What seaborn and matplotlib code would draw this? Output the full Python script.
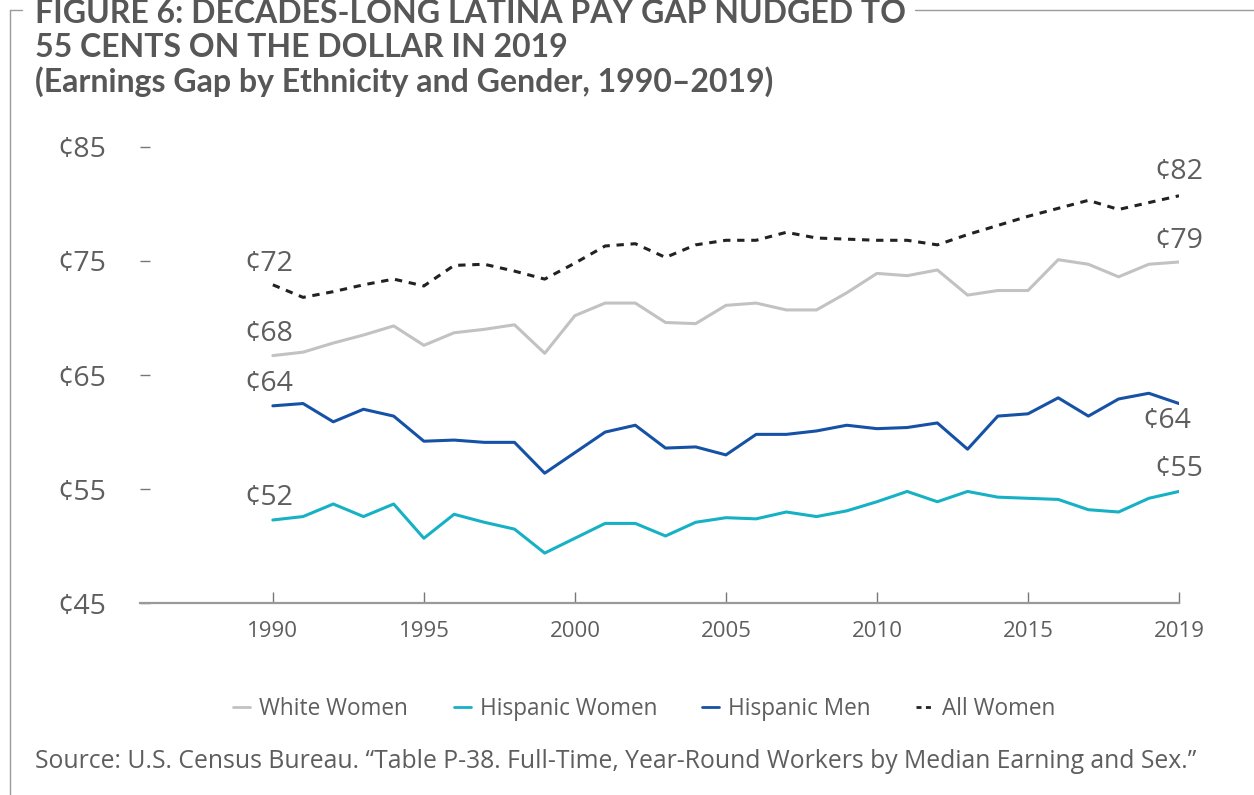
import numpy as np
import pandas as pd
import matplotlib
matplotlib.use("Agg")
import matplotlib.pyplot as plt
from matplotlib.lines import Line2D
import seaborn as sns

# observation index (31 census rows, 1990-2019)
obs = list(range(31))
tick_pos = [0, 5, 10, 15, 20, 25, 30]
tick_labels = ["1990", "1995", "2000", "2005", "2010", "2015", "2019"]

white_women = [66.7, 67.0, 67.8, 68.5, 69.3, 67.6, 68.7, 69.0, 69.4, 66.9,
               70.2, 71.3, 71.3, 69.6, 69.5, 71.1, 71.3, 70.7, 70.7, 72.2,
               73.9, 73.7, 74.2, 72.0, 72.4, 72.4, 75.1, 74.7, 73.6, 74.7, 74.9]
hispanic_women = [52.3, 52.6, 53.7, 52.6, 53.7, 50.7, 52.8, 52.1, 51.5, 49.4,
                  50.7, 52.0, 52.0, 50.9, 52.1, 52.5, 52.4, 53.0, 52.6, 53.1,
                  53.9, 54.8, 53.9, 54.8, 54.3, 54.2, 54.1, 53.2, 53.0, 54.2, 54.8]
hispanic_men = [62.3, 62.5, 60.9, 62.0, 61.4, 59.2, 59.3, 59.1, 59.1, 56.4,
                58.2, 60.0, 60.6, 58.6, 58.7, 58.0, 59.8, 59.8, 60.1, 60.6,
                60.3, 60.4, 60.8, 58.5, 61.4, 61.6, 63.0, 61.4, 62.9, 63.4, 62.5]
all_women = [72.9, 71.8, 72.3, 72.9, 73.4, 72.8, 74.6, 74.7, 74.1, 73.4,
             74.8, 76.3, 76.5, 75.3, 76.4, 76.8, 76.8, 77.5, 77.0, 76.9,
             76.8, 76.8, 76.4, 77.3, 78.1, 78.9, 79.6, 80.3, 79.5, 80.1, 80.7]

series_names = ["White Women", "Hispanic Women", "Hispanic Men", "All Women"]
start_labels = ["¢68", "¢52", "¢64", "¢72"]
end_labels = ["¢79", "¢55", "¢64", "¢82"]

colors = {"White Women": "#c2c2c2", "Hispanic Women": "#16b1c4",
          "Hispanic Men": "#1552a6", "All Women": "#222222"}
dash_map = {"White Women": "", "Hispanic Women": "", "Hispanic Men": "",
            "All Women": (2.4, 2.2)}

values = [white_women, hispanic_women, hispanic_men, all_women]
df = pd.concat([pd.DataFrame({"obs": obs, "cents": v, "group": n})
                for n, v in zip(series_names, values)], ignore_index=True)

sns.set_style("white")
plt.rcParams["font.family"] = ["Open Sans", "DejaVu Sans"]
txt = "#5e5e5e"

fig = plt.figure(figsize=(12.54, 7.95), dpi=100)
ax = fig.add_axes([0.1116, 0.2411, 0.8286, 0.5744])

sns.lineplot(data=df, x="obs", y="cents", hue="group", style="group",
             palette=colors, dashes=dash_map, hue_order=series_names,
             style_order=series_names, linewidth=2.2, ax=ax, legend=False)

ax.set_xlim(-4.4, 30)
ax.set_ylim(45, 85)
ax.set_yticks([45, 55, 65, 75, 85])
ax.set_yticklabels(["¢45", "¢55", "¢65", "¢75", "¢85"])
ax.set_xticks(tick_pos)
ax.set_xticklabels(tick_labels)
ax.set_xlabel("")
ax.set_ylabel("")
for s in ["top", "right", "left"]:
    ax.spines[s].set_visible(False)
ax.spines["bottom"].set_color("#999999")
ax.spines["bottom"].set_linewidth(1.6)
ax.tick_params(axis="y", left=True, direction="in", length=7, width=1,
               color="#777777", labelsize=20.5, labelcolor=txt, pad=24)
ax.tick_params(axis="x", bottom=True, direction="in", length=8, width=1,
               color="#777777", labelsize=16, labelcolor=txt, pad=13)

# value labels at start and end of each line
start_off = {"White Women": (-4, 22), "Hispanic Women": (-4, 22),
             "Hispanic Men": (-4, 22), "All Women": (-4, 21)}
end_off = {"White Women": (0, 21), "Hispanic Women": (0, 22),
           "Hispanic Men": (-12, -17), "All Women": (0, 24)}
for n, v, sl, el in zip(series_names, values, start_labels, end_labels):
    ax.annotate(sl, xy=(obs[0], v[0]), xytext=start_off[n], textcoords="offset pixels",
                ha="center", va="center", fontsize=20.5, color=txt)
    ax.annotate(el, xy=(obs[-1], v[-1]), xytext=end_off[n], textcoords="offset pixels",
                ha="center", va="center", fontsize=20.5, color=txt)

# legend
handles = [Line2D([0], [0], color=colors[n], lw=2,
                  linestyle=(0, (1.8, 1.6)) if n == "All Women" else "-")
           for n in series_names]
leg = fig.legend(handles, series_names, loc="center", bbox_to_anchor=(0.514, 0.108),
                 ncol=4, frameon=False, fontsize=16.3, handlelength=0.75,
                 handletextpad=0.4, columnspacing=2.0)
for t in leg.get_texts():
    t.set_color(txt)

# title
title_lines = ["FIGURE 6: DECADES-LONG LATINA PAY GAP NUDGED TO",
               "55 CENTS ON THE DOLLAR IN 2019",
               "(Earnings Gap by Ethnicity and Gender, 1990\u20132019)"]
for line, yb in zip(title_lines, [23, 57, 92]):
    fig.text(35 / 1254, 1 - yb / 795, line, ha="left", va="baseline",
             fontsize=23, fontweight="bold", color="#575757",
             family=["Lato", "DejaVu Sans"])

fig.text(35 / 1254, 1 - 762 / 795,
         "Source: U.S. Census Bureau. \u201cTable P-38. Full-Time, Year-Round Workers by Median Earning and Sex.\u201d",
         ha="left", va="center", fontsize=17.8, color=txt)

# frame bracket
fc = "#9a9a9a"
fig.add_artist(Line2D([10 / 1254, 10 / 1254], [1 - 10 / 795, 0], color=fc, lw=1))
fig.add_artist(Line2D([10 / 1254, 22 / 1254], [1 - 10 / 795, 1 - 10 / 795], color=fc, lw=1))
fig.add_artist(Line2D([915 / 1254, 1], [1 - 10 / 795, 1 - 10 / 795], color=fc, lw=1))

fig.savefig("out.png", dpi=100)
